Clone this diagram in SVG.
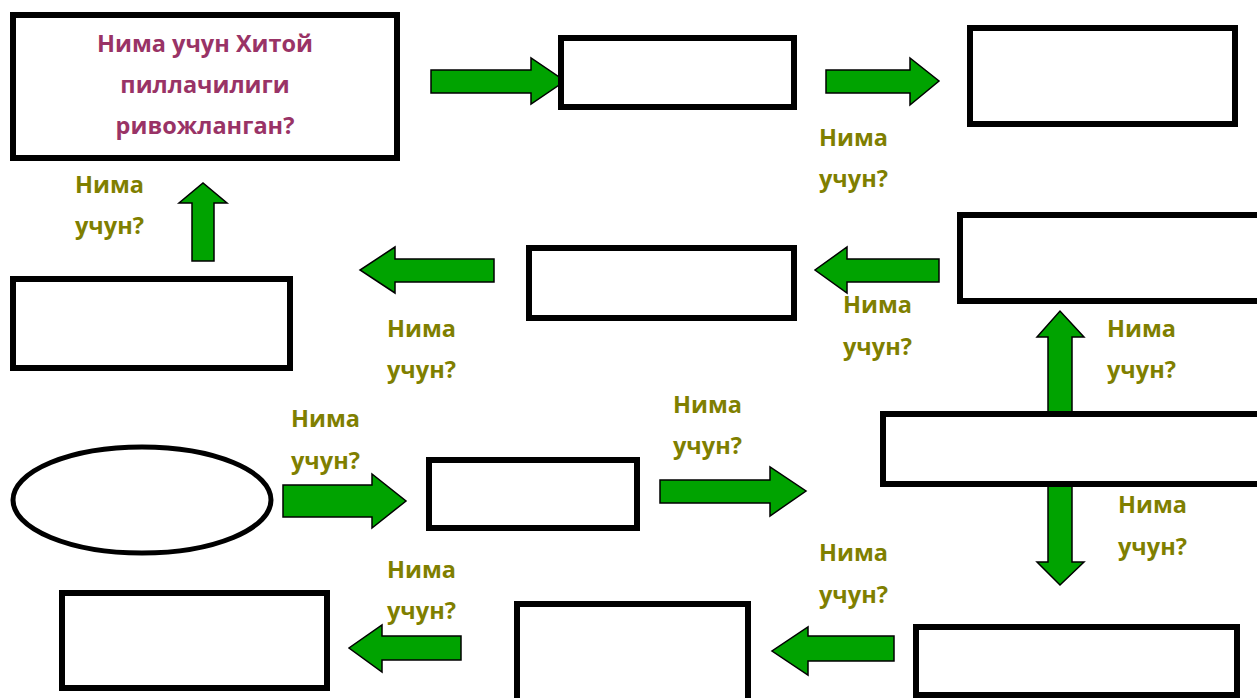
<svg xmlns="http://www.w3.org/2000/svg" width="1257" height="698" viewBox="0 0 1257 698">
<style>
.box{fill:#fff;stroke:#000;stroke-width:6}
.arr{fill:#00a300;stroke:#000;stroke-width:1.5;stroke-linejoin:miter}
.q{font-family:"Open Sans","Noto Sans",sans-serif;font-weight:bold;font-size:23.5px;fill:#7f7f00}
.t{font-family:"Open Sans","Noto Sans",sans-serif;font-weight:bold;font-size:23.5px;fill:#993366;text-anchor:middle}
</style>
<rect width="1257" height="698" fill="#fff"/>
<g id="connectors">
<polygon class="arr" points="431,70 531,70 531,58 565,81 531,104 531,93 431,93"/>
<polygon class="arr" points="826,70 910,70 910,58 939,81 910,105 910,93 826,93"/>
<polygon class="arr" points="192,261 192,203 179,203 203,183 227,203 214,203 214,261"/>
<polygon class="arr" points="494,259 395,259 395,247 360,270 395,293 395,282 494,282"/>
<polygon class="arr" points="939,259 847,259 847,247 815,270 847,293 847,282 939,282"/>
<polygon class="arr" points="1048,414 1048,337 1037,337 1060,311 1084,337 1072,337 1072,414"/>
<polygon class="arr" points="1048,484 1048,562 1037,562 1060,585 1084,562 1072,562 1072,484"/>
<polygon class="arr" points="283,485 372,485 372,474 406,501 372,528 372,517 283,517"/>
<polygon class="arr" points="660,480 770,480 770,467 806,491 770,516 770,503 660,503"/>
<polygon class="arr" points="894,636 808,636 808,627 772,651 808,675 808,661 894,661"/>
<polygon class="arr" points="461,636 382,636 382,625 349,648 382,672 382,660 461,660"/>
</g>
<g id="n1"><rect class="box" x="13" y="15" width="384" height="143"/>
<text class="t" x="205" y="52">Нима учун Хитой</text>
<text class="t" x="205" y="93">пиллачилиги</text>
<text class="t" x="205" y="134">ривожланган?</text></g>
<g id="n2"><rect class="box" x="561" y="38" width="233" height="69"/></g>
<g id="n3"><rect class="box" x="970" y="28" width="265" height="96"/></g>
<g id="n4"><rect class="box" x="13" y="279" width="277" height="89"/></g>
<g id="n5"><rect class="box" x="529" y="248" width="265" height="70"/></g>
<g id="n6"><rect class="box" x="960" y="215" width="310" height="86"/></g>
<g id="n7"><rect class="box" x="883" y="414" width="390" height="70"/></g>
<g id="n8"><ellipse cx="142" cy="500" rx="129" ry="53" fill="#fff" stroke="#000" stroke-width="5"/></g>
<g id="n9"><rect class="box" x="429" y="460" width="208" height="68"/></g>
<g id="n10"><rect class="box" x="916" y="627" width="321" height="68"/></g>
<g id="n11"><rect class="box" x="517" y="604" width="231" height="100"/></g>
<g id="n12"><rect class="box" x="62" y="593" width="265" height="95"/></g>
<g id="labels">
<text class="q" x="819" y="146">Нима</text><text class="q" x="819" y="187">учун?</text>
<text class="q" x="75" y="193">Нима</text><text class="q" x="75" y="234">учун?</text>
<text class="q" x="387" y="337">Нима</text><text class="q" x="387" y="378">учун?</text>
<text class="q" x="843" y="313">Нима</text><text class="q" x="843" y="355">учун?</text>
<text class="q" x="1107" y="337">Нима</text><text class="q" x="1107" y="378">учун?</text>
<text class="q" x="291" y="427">Нима</text><text class="q" x="291" y="469">учун?</text>
<text class="q" x="673" y="413">Нима</text><text class="q" x="673" y="454">учун?</text>
<text class="q" x="1118" y="513">Нима</text><text class="q" x="1118" y="555">учун?</text>
<text class="q" x="819" y="561">Нима</text><text class="q" x="819" y="603">учун?</text>
<text class="q" x="387" y="578">Нима</text><text class="q" x="387" y="619">учун?</text>
</g>
</svg>
